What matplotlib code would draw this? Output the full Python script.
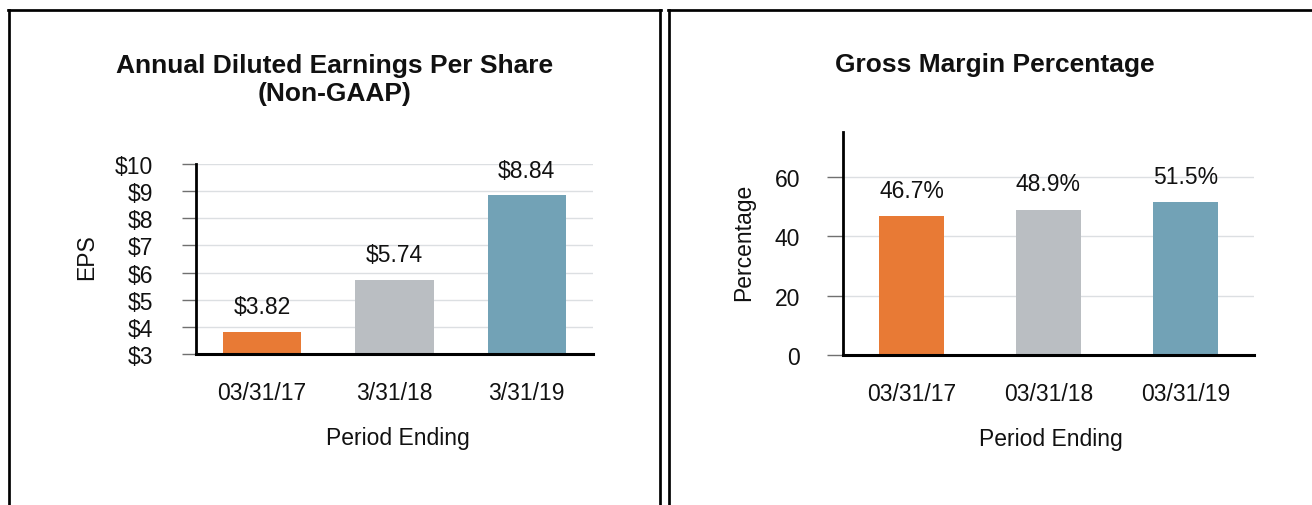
import matplotlib
matplotlib.use("Agg")
import matplotlib.pyplot as plt
from matplotlib.lines import Line2D

# ---------------- data ----------------
eps_periods = ['03/31/17', '3/31/18', '3/31/19']
eps_values = [3.82, 5.74, 8.84]
eps_value_labels = ['$3.82', '$5.74', '$8.84']
eps_ticks = [3, 4, 5, 6, 7, 8, 9, 10]
eps_tick_labels = ['$3', '$4', '$5', '$6', '$7', '$8', '$9', '$10']

gm_periods = ['03/31/17', '03/31/18', '03/31/19']
gm_values = [46.7, 48.9, 51.5]
gm_value_labels = ['46.7%', '48.9%', '51.5%']
gm_ticks = [0, 20, 40, 60]
gm_tick_labels = ['0', '20', '40', '60']

bar_colors = ['#E87A35', '#BABEC2', '#72A2B6']

# ---------------- figure ----------------
W, H = 1312, 506
plt.rcParams['font.family'] = ['Liberation Sans', 'DejaVu Sans']
fig = plt.figure(figsize=(W / 100, H / 100), dpi=100)


def fx(px):
    return px / W


def fy(py):
    return 1 - py / H


def axes_px(x0, x1, ytop, ybot):
    return fig.add_axes([fx(x0), fy(ybot), fx(x1) - fx(x0), (ybot - ytop) / H])


# panel borders
blw = 1.95
for xs, ys in [
    ([9.3, 9.3], [11.3, 520]),
    ([8, 661.3], [11.3, 11.3]),
    ([660, 660], [11.3, 520]),
    ([669.3, 669.3], [11.3, 520]),
    ([668, 1330], [11.3, 11.3]),
]:
    fig.add_artist(Line2D([fx(x) for x in xs], [fy(y) for y in ys],
                          transform=fig.transFigure, color='black', lw=blw,
                          solid_capstyle='projecting'))

TXT = '#111111'
FS = 16.5
GRID = '#DCDFE2'
TICKC = '#707070'


def style_axes(ax, ticklen, tickpad):
    for s in ['top', 'right']:
        ax.spines[s].set_visible(False)
    ax.spines['left'].set_linewidth(2.0)
    ax.spines['bottom'].set_linewidth(2.2)
    ax.spines['left'].set_color('black')
    ax.spines['bottom'].set_color('black')
    ax.set_axisbelow(True)
    ax.yaxis.grid(True, color=GRID, lw=1.0)
    ax.tick_params(axis='y', length=ticklen, width=1.0, color=TICKC,
                   pad=tickpad, labelsize=FS, labelcolor=TXT)
    ax.tick_params(axis='x', length=0, pad=19.5, labelsize=FS, labelcolor=TXT)


# ---------------- left: EPS ----------------
ax1 = axes_px(196, 593, 165, 355)
x1 = range(len(eps_periods))
bars1 = ax1.bar(x1, eps_values, width=0.59, color=bar_colors, bottom=0)
ax1.set_xlim(-0.5, 2.5)
ax1.set_ylim(3, 10)
ax1.set_yticks(eps_ticks, eps_tick_labels)
ax1.set_xticks(list(x1), eps_periods)
style_axes(ax1, 10, 21)
for i, (v, lab) in enumerate(zip(eps_values, eps_value_labels)):
    ax1.annotate(lab, (i, v), xytext=(0, 13.6), textcoords='offset points',
                 ha='center', va='baseline', fontsize=FS, color=TXT)
ax1.set_ylabel('EPS', fontsize=FS, color=TXT)
ax1.yaxis.label.set(va='baseline', rotation_mode='anchor')
ax1.yaxis.set_label_coords((93 - 196) / 397, (355 - 257) / 190)
ax1.set_xlabel('Period Ending', fontsize=FS, color=TXT)
ax1.xaxis.label.set(va='baseline')
ax1.xaxis.set_label_coords((397.5 - 196) / 397, (355 - 445) / 190)

fig.text(fx(334.5), fy(73.3), 'Annual Diluted Earnings Per Share',
         ha='center', va='baseline', fontsize=19, fontweight='bold', color=TXT)
fig.text(fx(334.5), fy(101.5), '(Non-GAAP)',
         ha='center', va='baseline', fontsize=19, fontweight='bold', color=TXT)

# ---------------- right: Gross margin ----------------
ax2 = axes_px(843, 1254, 133, 356)
x2 = range(len(gm_periods))
ax2.bar(x2, gm_values, width=0.48, color=bar_colors)
ax2.set_xlim(-0.5, 2.5)
ax2.set_ylim(0, 75)
ax2.set_yticks(gm_ticks, gm_tick_labels)
ax2.set_xticks(list(x2), gm_periods)
style_axes(ax2, 11.5, 19.5)
for i, (v, lab) in enumerate(zip(gm_values, gm_value_labels)):
    ax2.annotate(lab, (i, v), xytext=(0, 13.9), textcoords='offset points',
                 ha='center', va='baseline', fontsize=FS, color=TXT)
ax2.set_ylabel('Percentage', fontsize=FS, color=TXT)
ax2.yaxis.label.set(va='baseline', rotation_mode='anchor')
ax2.yaxis.set_label_coords((750 - 843) / 411, (356 - 242) / 223)
ax2.set_xlabel('Period Ending', fontsize=FS, color=TXT)
ax2.xaxis.label.set(va='baseline')
ax2.xaxis.set_label_coords((1051 - 843) / 411, (356 - 446) / 223)

fig.text(fx(994.5), fy(72.5), 'Gross Margin Percentage',
         ha='center', va='baseline', fontsize=19, fontweight='bold', color=TXT)

fig.savefig('out.png', dpi=100, facecolor='white')
